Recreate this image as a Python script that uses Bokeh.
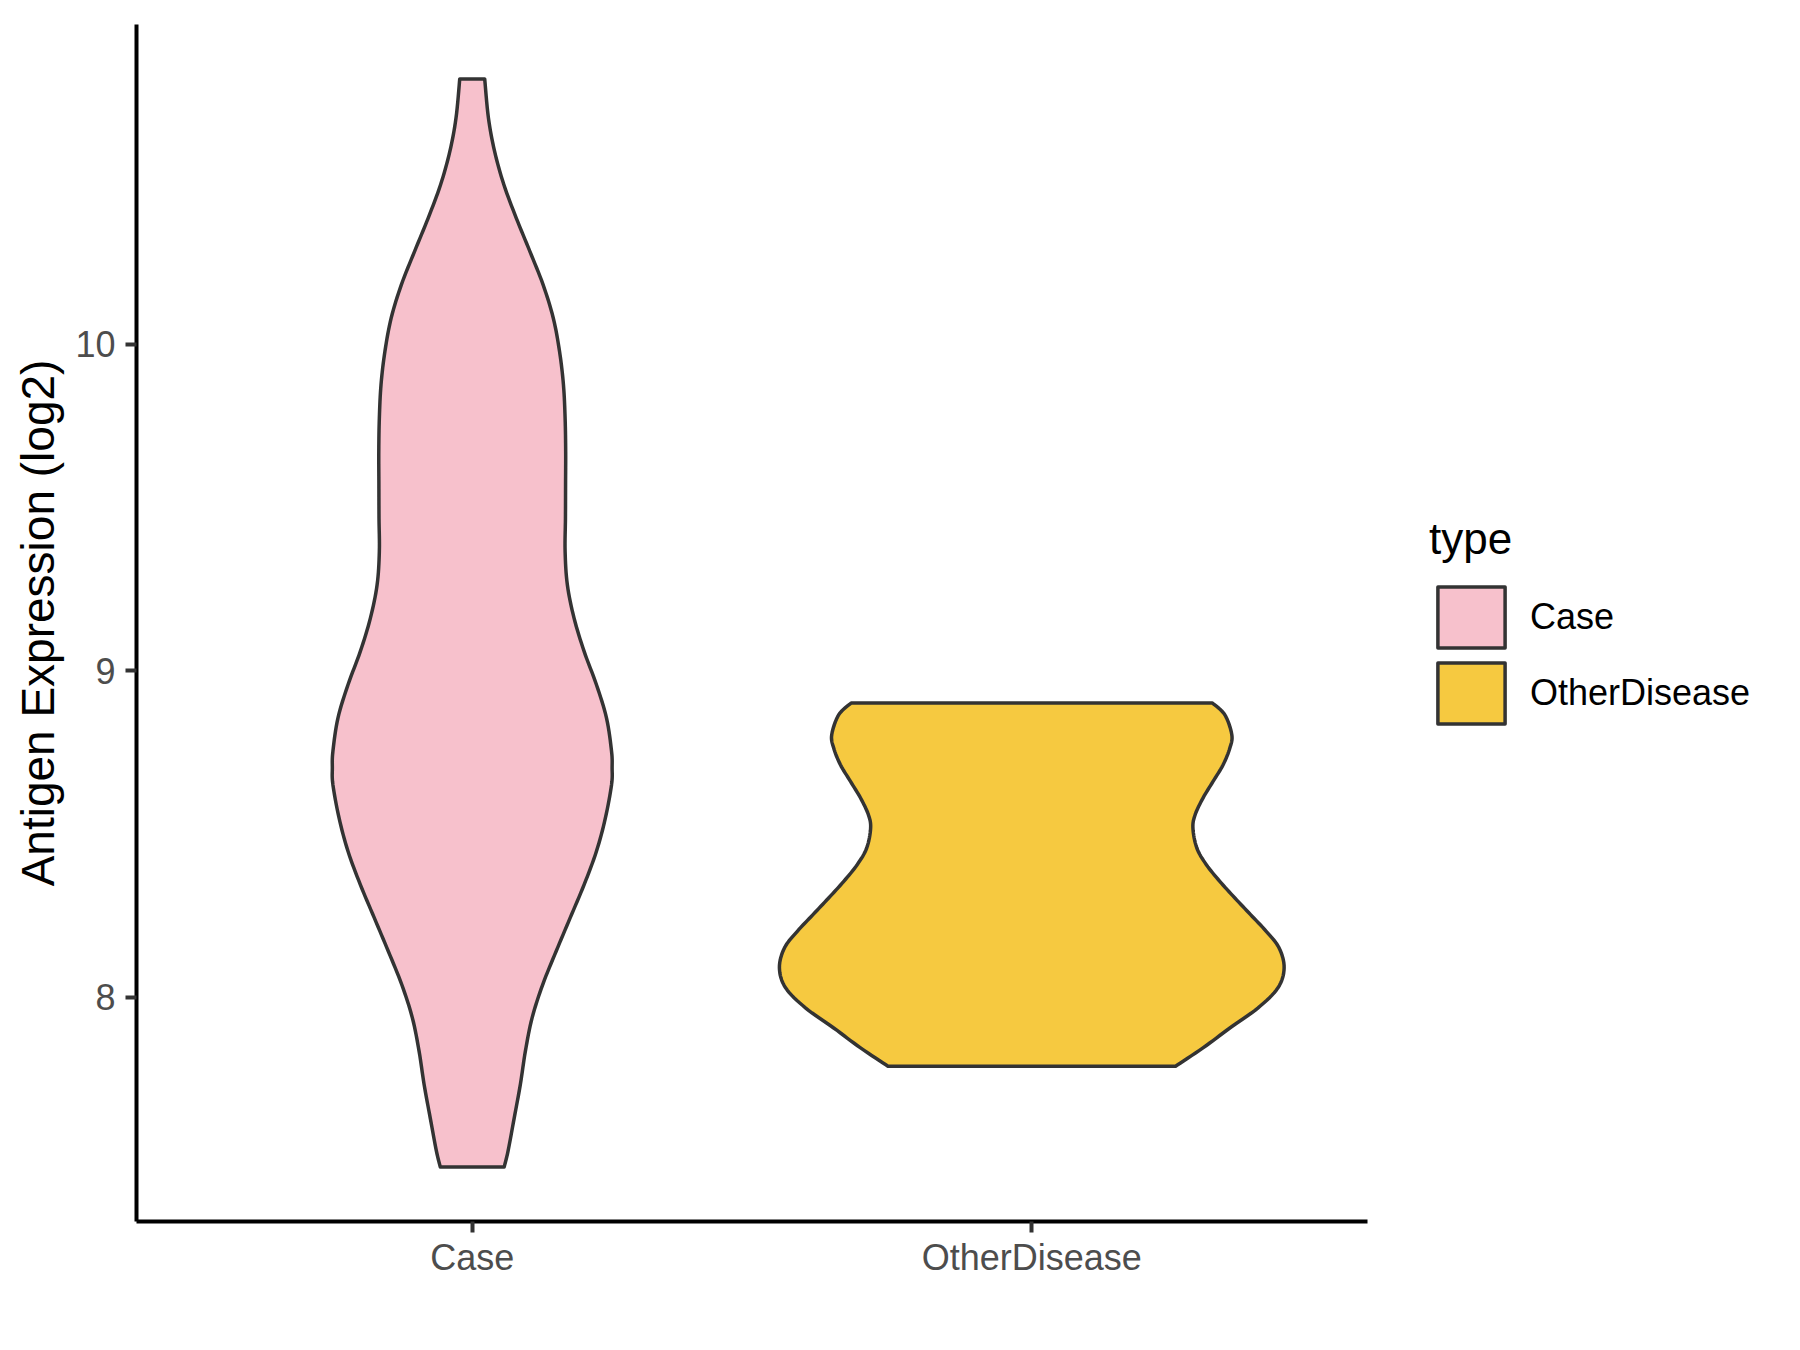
from bokeh.plotting import figure
from bokeh.models import Range1d, FixedTicker, Legend, LegendItem
from bokeh.embed import file_html
from bokeh.resources import INLINE

# ---- data ----
categories = ["Case", "OtherDisease"]
cat_pos = [1, 2]
fills = ["#F7C1CC", "#F6C940"]

# Case violin: y values and half-widths (category units)
case_y = [7.480, 7.529, 7.630, 7.733, 7.835, 7.937, 8.039, 8.141, 8.243, 8.345,
          8.447, 8.549, 8.651, 8.702, 8.753, 8.855, 8.957, 9.059, 9.161, 9.263,
          9.365, 9.467, 9.570, 9.672, 9.773, 9.876, 9.978, 10.080, 10.182, 10.284,
          10.386, 10.488, 10.590, 10.692, 10.812]
case_hw = [0.057, 0.064, 0.075, 0.086, 0.095, 0.107, 0.126, 0.150, 0.175, 0.200,
           0.222, 0.238, 0.249, 0.250, 0.249, 0.240, 0.222, 0.200, 0.182, 0.170,
           0.166, 0.1666, 0.1668, 0.167, 0.166, 0.163, 0.156, 0.1448, 0.1266, 0.103,
           0.0787, 0.0566, 0.040, 0.029, 0.0223]

# OtherDisease violin
od_y = [7.789, 7.845, 7.906, 7.967, 8.029, 8.090, 8.151, 8.202, 8.253, 8.304,
        8.355, 8.406, 8.457, 8.518, 8.559, 8.610, 8.661, 8.712, 8.763, 8.804,
        8.865, 8.901]
od_hw = [0.257, 0.306, 0.354, 0.404, 0.440, 0.451, 0.442, 0.419, 0.391, 0.363,
         0.336, 0.312, 0.295, 0.288, 0.292, 0.306, 0.324, 0.342, 0.354, 0.3575,
         0.345, 0.3228]

y_ticks = [8, 9, 10]
y_label = "Antigen Expression (log2)"
legend_title = "type"

FONT = "Liberation Sans"


def smooth_outline(ys, ws, sub=8):
    """Catmull-Rom curve through the read points (drawing only)."""
    pts = list(zip(ys, ws))
    out = []
    n = len(pts)
    for i in range(n - 1):
        p0 = pts[max(i - 1, 0)]
        p1 = pts[i]
        p2 = pts[i + 1]
        p3 = pts[min(i + 2, n - 1)]
        for k in range(sub):
            t = k / sub
            t2, t3 = t * t, t * t * t
            c = [(-t3 + 2 * t2 - t) / 2, (3 * t3 - 5 * t2 + 2) / 2,
                 (-3 * t3 + 4 * t2 + t) / 2, (t3 - t2) / 2]
            y = c[0] * p0[0] + c[1] * p1[0] + c[2] * p2[0] + c[3] * p3[0]
            w = c[0] * p0[1] + c[1] * p1[1] + c[2] * p2[1] + c[3] * p3[1]
            out.append((y, w))
    out.append(pts[-1])
    return [o[0] for o in out], [o[1] for o in out]


# y range with ggplot-like 5% expansion
all_y = case_y + od_y
lo, hi = min(all_y), max(all_y)
pad = (hi - lo) * 0.05

p = figure(frame_width=1231, frame_height=1197,
           x_range=Range1d(0.4, 2.6), y_range=Range1d(lo - pad, hi + pad),
           output_backend="svg", toolbar_location=None,
           min_border_left=136, min_border_top=24,
           min_border_bottom=100, min_border_right=400)
p.background_fill_color = "white"
p.border_fill_color = "white"
p.outline_line_color = None
p.grid.grid_line_color = None

renderers = []
for pos, ys, hws, col in [(cat_pos[0], case_y, case_hw, fills[0]),
                          (cat_pos[1], od_y, od_hw, fills[1])]:
    sy, sw = smooth_outline(ys, hws)
    xs = [pos - w for w in sw] + [pos + w for w in reversed(sw)]
    yy = list(sy) + list(reversed(sy))
    r = p.patch(xs, yy, fill_color=col, line_color="#333333", line_width=3.5,
                line_join="round")
    renderers.append(r)

# axes
for ax in (p.xaxis[0], p.yaxis[0]):
    ax.axis_line_color = "black"
    ax.axis_line_width = 4
    ax.major_tick_line_color = "#333333"
    ax.major_tick_line_width = 4
    ax.major_tick_in = 0
    ax.major_tick_out = 11
    ax.minor_tick_line_color = None
    ax.major_label_text_font = FONT
    ax.major_label_text_font_size = "36px"
    ax.major_label_text_color = "#4D4D4D"

p.xaxis.ticker = FixedTicker(ticks=cat_pos)
p.xaxis.major_label_overrides = {c: n for c, n in zip(cat_pos, categories)}
p.xaxis.major_label_standoff = 4

p.yaxis.ticker = FixedTicker(ticks=y_ticks)
p.yaxis.major_label_standoff = 10
p.yaxis.axis_label = y_label
p.yaxis.axis_label_text_font = FONT
p.yaxis.axis_label_text_font_size = "46px"
p.yaxis.axis_label_text_font_style = "normal"
p.yaxis.axis_label_text_color = "black"
p.yaxis.axis_label_standoff = 8

legend = Legend(items=[LegendItem(label=categories[0], renderers=[renderers[0]]),
                       LegendItem(label=categories[1], renderers=[renderers[1]])],
                title=legend_title, location=(62, 490),
                glyph_width=84, glyph_height=76, spacing=0,
                label_standoff=17, padding=0, margin=0,
                border_line_color=None, background_fill_alpha=0,
                label_text_font=FONT, label_text_font_size="36px",
                label_text_color="black",
                title_text_font=FONT, title_text_font_size="44px",
                title_text_font_style="normal", title_text_color="black",
                title_standoff=15)
p.add_layout(legend, "right")

open("out.html", "w").write(file_html(p, INLINE))
